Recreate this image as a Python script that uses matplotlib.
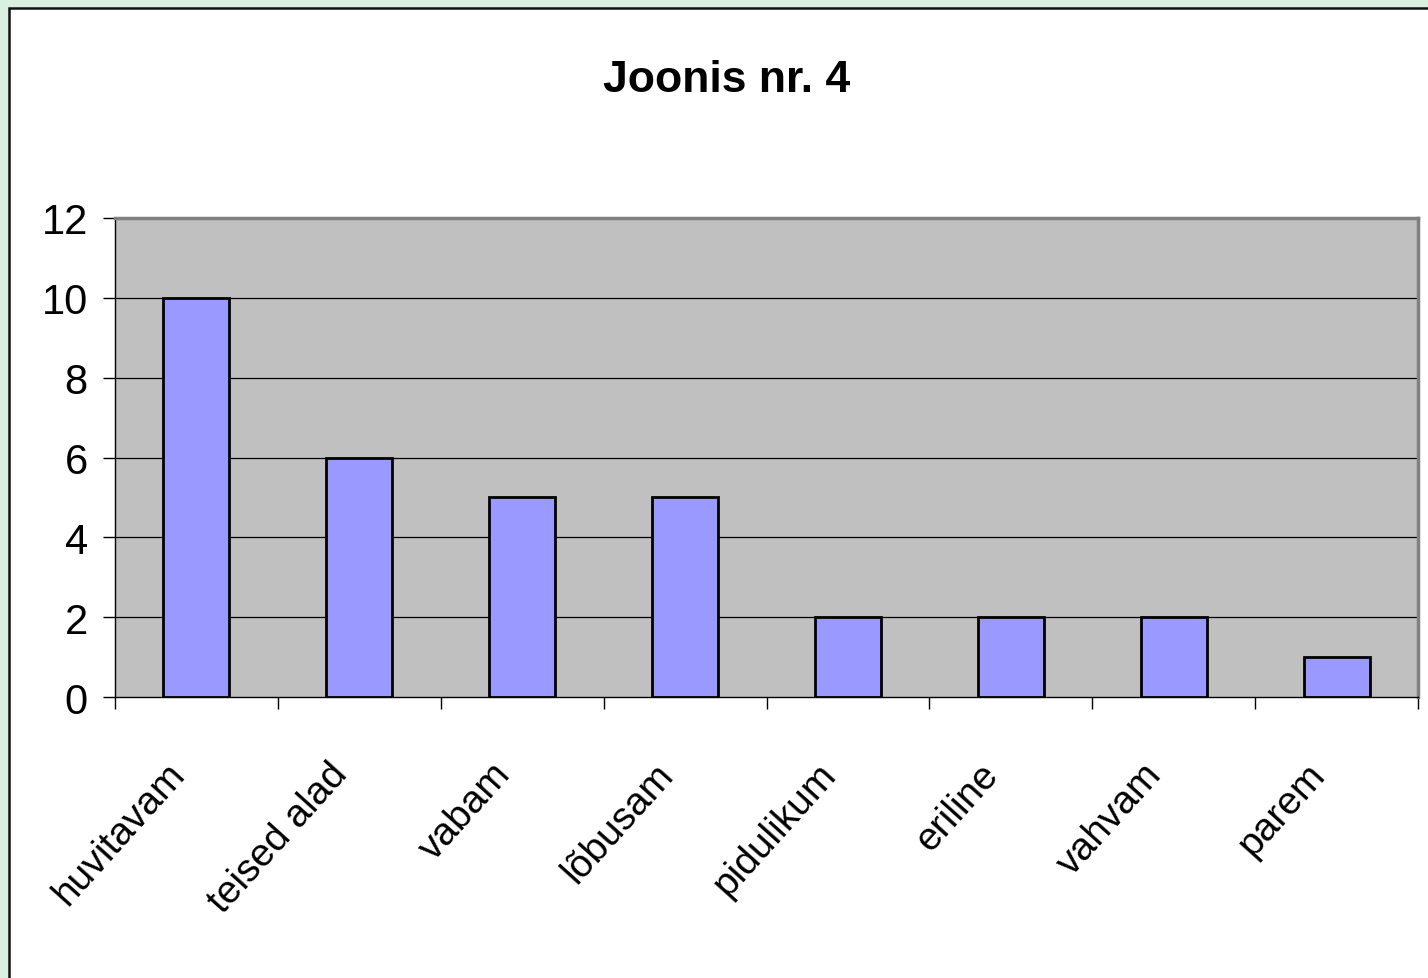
import numpy as np
import matplotlib
matplotlib.use("Agg")
import matplotlib.pyplot as plt
import matplotlib.transforms as mtransforms
from matplotlib.patches import Rectangle

categories = ["huvitavam", "teised alad", "vabam", "lõbusam",
              "pidulikum", "eriline", "vahvam", "parem"]
values = [10, 6, 5, 5, 2, 2, 2, 1]
yticks = [0, 2, 4, 6, 8, 10, 12]

plt.rcParams['font.family'] = ['Liberation Sans', 'DejaVu Sans']

fig = plt.figure(figsize=(14.28, 9.79), dpi=100)
fig.patch.set_facecolor('#d9efdf')

# white chart panel with black frame
panel = Rectangle((9 / 1428, -0.05), 1.1, 1 - 9 / 979 + 0.05,
                  transform=fig.transFigure, facecolor='white',
                  edgecolor='#111111', linewidth=1.8, zorder=-10)
fig.add_artist(panel)

ax = fig.add_axes([115 / 1428, 1 - 698 / 979, (1418 - 115) / 1428, (698 - 219) / 979])
ax.set_facecolor('#c0c0c0')

x = np.arange(len(categories))
ax.bar(x, values, width=0.405, color='#9999ff', edgecolor='black', linewidth=2, zorder=3)

ax.set_xlim(-0.5, len(categories) - 0.5)
ax.set_ylim(0, 12)
ax.set_yticks(yticks)
ax.set_yticklabels([str(v) for v in yticks], fontsize=30)
ax.tick_params(axis='y', length=8.6, width=1, pad=11, color='black')

for v in yticks[1:-1]:
    ax.axhline(v, color='black', linewidth=0.9, zorder=1)

ax.set_xticks(x)
ax.set_xticklabels(categories, rotation=48, ha='right', va='center',
                   rotation_mode='anchor', fontsize=28)
ax.tick_params(axis='x', which='major', length=0, pad=51)
shift = mtransforms.ScaledTranslation(-18 / 100, 0, fig.dpi_scale_trans)
for lbl in ax.get_xticklabels():
    lbl.set_transform(lbl.get_transform() + shift)
ax.set_xticks(np.arange(-0.5, len(categories)), minor=True)
ax.tick_params(axis='x', which='minor', length=8.6, width=1, color='black')

for s in ['top', 'right']:
    ax.spines[s].set_color('#808080')
    ax.spines[s].set_linewidth(2.5)
for s in ['left', 'bottom']:
    ax.spines[s].set_color('black')
    ax.spines[s].set_linewidth(1)

fig.text(727 / 1428, 1 - 80 / 979, "Joonis nr. 4", ha='center', va='center',
         fontsize=32, fontweight='bold',
         family=['Liberation Sans Narrow', 'Liberation Sans', 'DejaVu Sans'])

fig.savefig('out.png', dpi=100, facecolor=fig.get_facecolor())
